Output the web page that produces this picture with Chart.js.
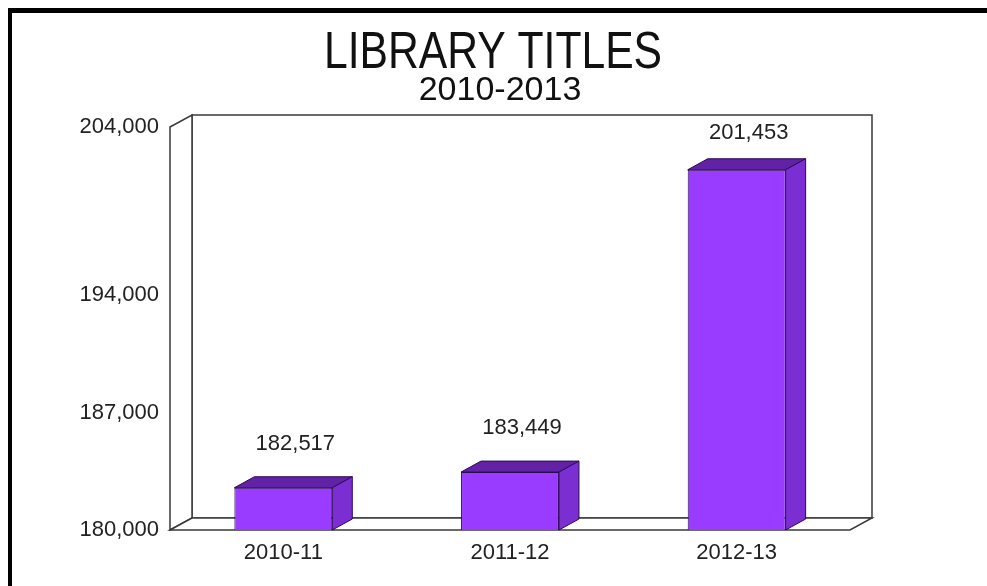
<!DOCTYPE html>
<html><head><meta charset="utf-8">
<script src="https://cdn.jsdelivr.net/npm/chart.js@4.4.0/dist/chart.umd.min.js"></script>
<style>html,body{margin:0;padding:0;background:#fff;}#wrap{width:987px;height:586px;}</style>
</head><body><div id="wrap"><canvas id="c" width="987" height="586"></canvas></div>
<script>
const categories = ['2010-11', '2011-12', '2012-13'];
const libraryTitles = [182517, 183449, 201453];
const yTickValues = [180000, 187000, 194000, 204000];
const yMin = 180000;
const yMax = 204000;
const chartTitle = 'LIBRARY TITLES';
const chartSubtitle = '2010-2013';

const WALL_DX = 22, WALL_DY = -12;
const BAR_DX = 20, BAR_DY = -11;
const fmt = v => v.toLocaleString('en-US');

const framePlugin = {
  id: 'frame3d',
  beforeDraw(chart) {
    const ctx = chart.ctx;
    ctx.save();
    ctx.fillStyle = '#ffffff';
    ctx.fillRect(0, 0, chart.width, chart.height);
    ctx.fillStyle = '#000000';
    ctx.fillRect(8, 8, chart.width - 8, 5);
    ctx.fillRect(8, 8, 4, chart.height - 8);
    ctx.restore();
  },
  beforeDatasetsDraw(chart) {
    const ctx = chart.ctx, a = chart.chartArea;
    const L = a.left, R = a.right, T = a.top, B = a.bottom;
    ctx.save();
    ctx.strokeStyle = '#3a3a3a';
    ctx.lineWidth = 1.5;
    ctx.fillStyle = '#ffffff';
    // back wall
    ctx.beginPath();
    ctx.rect(L + WALL_DX, T + WALL_DY, R - L, B - T);
    ctx.fill(); ctx.stroke();
    // left wall
    ctx.beginPath();
    ctx.moveTo(L, T); ctx.lineTo(L + WALL_DX, T + WALL_DY);
    ctx.lineTo(L + WALL_DX, B + WALL_DY); ctx.lineTo(L, B); ctx.closePath();
    ctx.fill(); ctx.stroke();
    // floor
    ctx.beginPath();
    ctx.moveTo(L, B); ctx.lineTo(L + WALL_DX, B + WALL_DY);
    ctx.lineTo(R + WALL_DX, B + WALL_DY); ctx.lineTo(R, B); ctx.closePath();
    ctx.fill(); ctx.stroke();
    ctx.restore();
  },
  afterDatasetsDraw(chart) {
    const ctx = chart.ctx, a = chart.chartArea;
    const meta = chart.getDatasetMeta(0);
    ctx.save();
    ctx.strokeStyle = '#2e0a55';
    ctx.lineWidth = 1;
    meta.data.forEach((bar, i) => {
      const p = bar.getProps(['x', 'y', 'base', 'width'], true);
      const xl = p.x - p.width / 2, xr = p.x + p.width / 2;
      const top = Math.max(Math.min(p.y, p.base), a.top);
      const bot = Math.min(Math.max(p.y, p.base), a.bottom);
      // top face
      ctx.fillStyle = '#6222a6';
      ctx.beginPath();
      ctx.moveTo(xl, top); ctx.lineTo(xl + BAR_DX, top + BAR_DY);
      ctx.lineTo(xr + BAR_DX, top + BAR_DY); ctx.lineTo(xr, top); ctx.closePath();
      ctx.fill(); ctx.stroke();
      // side face
      ctx.fillStyle = '#7b2fd2';
      ctx.beginPath();
      ctx.moveTo(xr, top); ctx.lineTo(xr + BAR_DX, top + BAR_DY);
      ctx.lineTo(xr + BAR_DX, bot + BAR_DY); ctx.lineTo(xr, bot); ctx.closePath();
      ctx.fill(); ctx.stroke();
      // value label
      ctx.fillStyle = '#222222';
      ctx.font = '22px Arial, "Liberation Sans", sans-serif';
      ctx.textAlign = 'center';
      ctx.textBaseline = 'middle';
      const ly = Math.max(top - 44, a.top + 6);
      ctx.fillText(fmt(chart.data.datasets[0].data[i]), p.x + 12, ly);
    });
    ctx.restore();
  },
  afterDraw(chart) {
    const ctx = chart.ctx;
    ctx.save();
    ctx.fillStyle = '#111111';
    ctx.textAlign = 'center';
    ctx.textBaseline = 'alphabetic';
    // main title (condensed)
    ctx.translate(493, 68);
    ctx.scale(0.82, 1);
    ctx.font = '52px Arial, "Liberation Sans", sans-serif';
    ctx.fillText(chartTitle, 0, 0);
    ctx.restore();
    ctx.save();
    ctx.fillStyle = '#111111';
    ctx.textAlign = 'center';
    ctx.textBaseline = 'alphabetic';
    ctx.font = '34px Arial, "Liberation Sans", sans-serif';
    ctx.fillText(chartSubtitle, 500, 100);
    ctx.restore();
  }
};

new Chart(document.getElementById('c'), {
  type: 'bar',
  data: {
    labels: categories,
    datasets: [{
      label: 'Library titles',
      data: libraryTitles,
      backgroundColor: '#9a3cff',
      borderColor: '#2e0a55',
      borderWidth: 1,
      borderSkipped: false,
      categoryPercentage: 1.0,
      barPercentage: 0.432
    }]
  },
  options: {
    responsive: false,
    animation: false,
    devicePixelRatio: 1,
    layout: { padding: { top: 127, left: 0, right: 137, bottom: 0 } },
    plugins: {
      legend: { display: false },
      tooltip: { enabled: false },
      title: { display: false },
      subtitle: { display: false }
    },
    scales: {
      x: {
        offset: true,
        grid: { display: false },
        border: { display: false },
        ticks: { color: '#222222', font: { family: 'Arial, "Liberation Sans", sans-serif', size: 22 }, padding: 2, maxRotation: 0 },
        afterFit(scale) { scale.height = 56; }
      },
      y: {
        min: yMin,
        max: yMax,
        grid: { display: false },
        border: { display: false },
        afterBuildTicks(scale) { scale.ticks = yTickValues.map(v => ({ value: v })); },
        ticks: {
          color: '#222222',
          font: { family: 'Arial, "Liberation Sans", sans-serif', size: 22 },
          padding: 3,
          callback: v => fmt(v)
        },
        afterFit(scale) { scale.width = 170; }
      }
    }
  },
  plugins: [framePlugin]
});
</script>
</body></html>
